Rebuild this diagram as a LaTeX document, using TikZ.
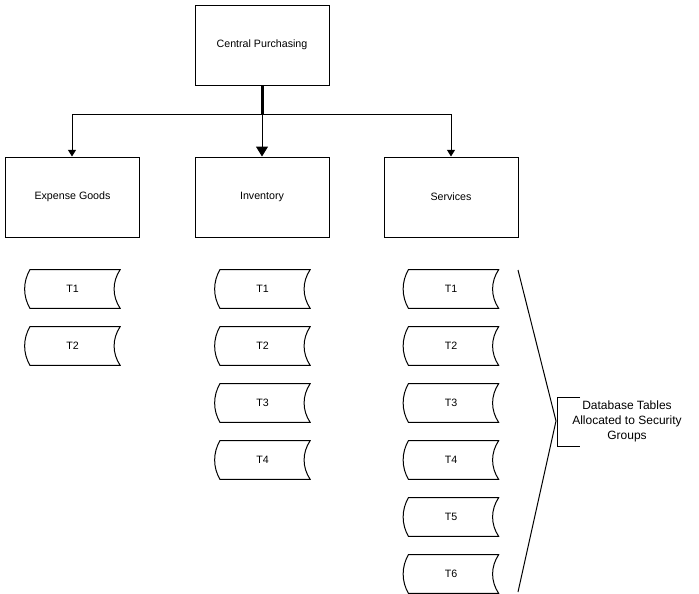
\documentclass[tikz,border=0pt]{standalone}
\usepackage{fontspec}
\setmainfont{Liberation Sans}
\usetikzlibrary{arrows.meta,calc}
\tikzset{
  box/.style={draw, line width=0.75pt, minimum width=100.5pt, minimum height=60pt, inner sep=0pt, font=\fontsize{8}{9.6}\selectfont},
  tbl/.style={minimum width=71pt, minimum height=28.5pt, inner sep=0pt, font=\fontsize{8}{9.6}\selectfont},
  conn/.style={line width=0.75pt},
  tip/.style={conn, -{Triangle[width=6pt,length=5pt]}},
  bigtip/.style={conn, -{Triangle[width=9pt,length=7.5pt]}},
}
\newcommand\tblout[1]{%
  \draw[conn] ($(#1.north west)+(5,0)$) -- (#1.north east)
    .. controls +(-8,12) and +(-8,-12) .. (#1.south east)
    -- ($(#1.south west)+(5,0)$)
    .. controls +(-7,-12) and +(-7,12) .. cycle;}
\begin{document}
\begin{tikzpicture}[x=0.75pt,y=-0.75pt]
\useasboundingbox (0,0) rectangle (699,593);
\node[box] (cp) at (262,45) {Central Purchasing};
\node[box] (eg) at (72.5,197) {Expense Goods};
\node[box] (inv) at (262,197) {Inventory};
\node[box] (sv) at (451,197) {Services};
\coordinate (jm) at (262,114);
\coordinate (jl) at (72,114);
\coordinate (jr) at (451,114);
\draw[line width=2.25pt] (cp.south) -- (jm);
\draw[conn] (jl) -- (jr);
\draw[tip] (jl) -- (eg.north -| jl);
\draw[tip] (jr) -- (sv.north -| jr);
\draw[bigtip] (jm) -- (inv.north -| jm);
% tables
\node[tbl] (e1) at (72.5,289) {T1};
\node[tbl] (e2) at (72.5,346) {T2};
\node[tbl] (i1) at (262.5,289) {T1};
\node[tbl] (i2) at (262.5,346) {T2};
\node[tbl] (i3) at (262.5,403) {T3};
\node[tbl] (i4) at (262.5,460) {T4};
\node[tbl] (s1) at (451,289) {T1};
\node[tbl] (s2) at (451,346) {T2};
\node[tbl] (s3) at (451,403) {T3};
\node[tbl] (s4) at (451,460) {T4};
\node[tbl] (s5) at (451,517) {T5};
\node[tbl] (s6) at (451,574) {T6};
\foreach \n in {e1,e2,i1,i2,i3,i4,s1,s2,s3,s4,s5,s6}{\tblout{\n}}
% brace
\coordinate (bt) at (518,270);
\coordinate (ap) at (556,421);
\coordinate (bb) at (518,592);
\draw[conn] (bt) -- (ap) -- (bb);
\coordinate (kt) at (580,397);
\coordinate (kb) at (580,446);
\draw[conn] (kt) -- (557,397) -- (557,446) -- (kb);
\node[align=center, inner sep=0pt, font=\fontsize{9}{11.25}\selectfont] (lbl) at (627,421) {Database Tables\\Allocated to Security\\Groups};
\end{tikzpicture}
\end{document}
